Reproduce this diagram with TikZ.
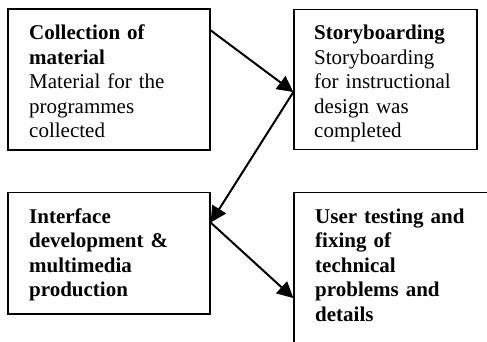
\documentclass[tikz,border=0pt]{standalone}
\usepackage{fontspec}
\setmainfont{Liberation Serif}
\usetikzlibrary{arrows.meta}
\tikzset{
  box/.style={draw=black, line width=1.3pt, rectangle, inner sep=0pt},
  label/.style={anchor=base west, inner sep=0pt, text width=170pt, align=left,
    font=\fontsize{21}{24.6}\selectfont},
  flow/.style={line width=2pt, -{Triangle[length=16pt,width=16pt]}}
}
\begin{document}
\begin{tikzpicture}[x=1pt, y=-1pt]
  \clip (0,0) rectangle (487,342);
  \fill[white] (0,0) rectangle (487,342);

  % process boxes
  \node[box, minimum width=202pt, minimum height=141pt]   (b1) at (109,79.5) {};
  \node[box, minimum width=183pt, minimum height=139.6pt] (b2) at (385.5,79.5) {};
  \node[box, minimum width=202pt, minimum height=121.3pt] (b3) at (109,253.35) {};
  \node[box, minimum width=226pt, minimum height=187.3pt] (b4) at (407,286.35) {};

  % box texts
  \node[label] (t1) at (29,39.5) {\textbf{Collection of}\\\textbf{material}\\Material for the\\programmes\\collected};
  \node[label] (t2) at (314,39.5) {\textbf{Storyboarding}\\Storyboarding\\for instructional\\design was\\completed};
  \node[label] (t3) at (29,223) {\textbf{Interface}\\\textbf{development \&}\\\textbf{multimedia}\\\textbf{production}};
  \node[label] (t4) at (315,223) {\textbf{User testing and}\\\textbf{fixing of}\\\textbf{technical}\\\textbf{problems and}\\\textbf{details}};

  % connection points on the box edges
  \coordinate (p1) at ([yshift=-22pt]b1.north east);
  \coordinate (p2) at ([yshift=-83pt]b2.north west);
  \coordinate (p3) at ([yshift=-30.5pt]b3.north east);
  \coordinate (p4) at ([yshift=-106pt]b4.north west);

  % flow arrows
  \draw[flow] (p1) -- (p2);
  \draw[flow] (p2) -- (p3);
  \draw[flow] (p3) -- (p4);
\end{tikzpicture}
\end{document}
